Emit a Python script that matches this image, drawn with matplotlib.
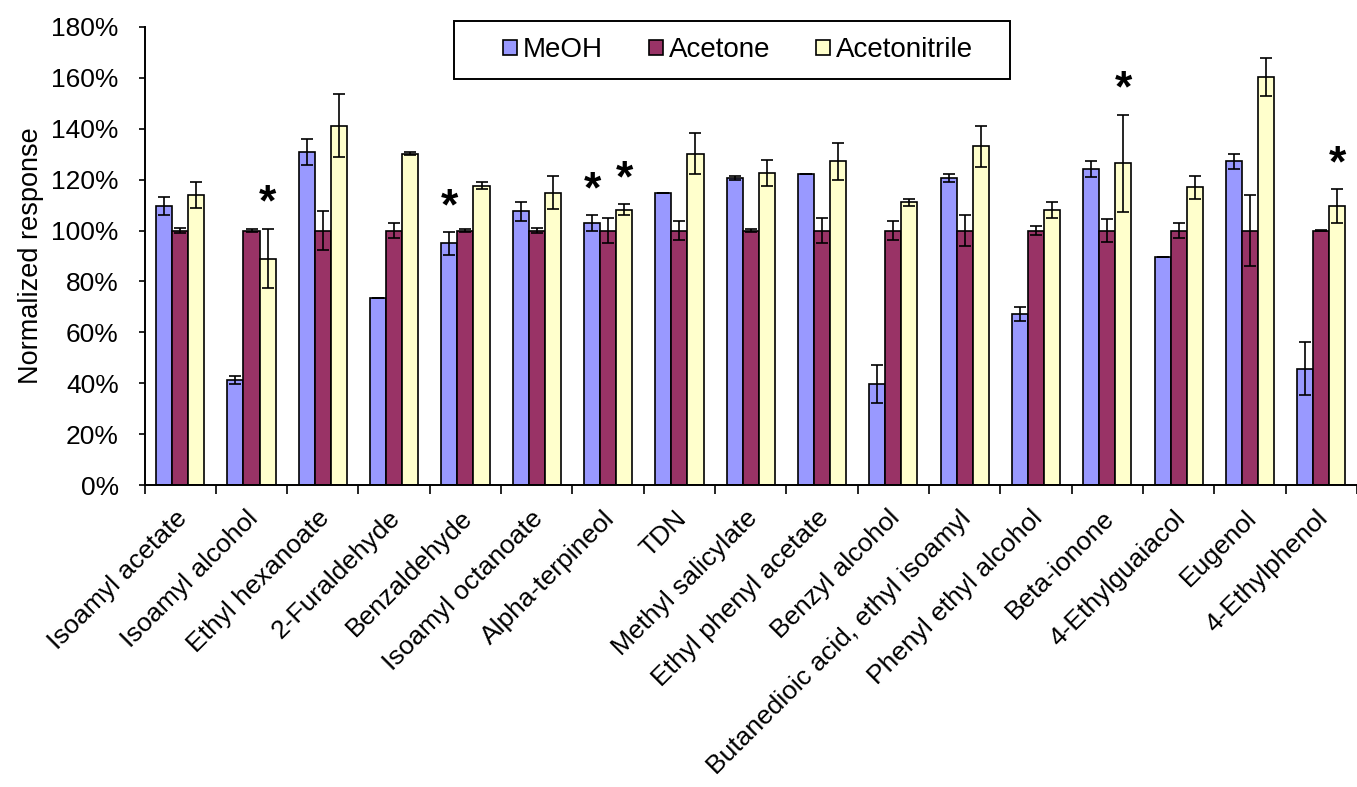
import numpy as np
import matplotlib
matplotlib.use('Agg')
import matplotlib.pyplot as plt
from matplotlib.patches import Rectangle
from matplotlib.ticker import PercentFormatter, FixedLocator

plt.rcParams['font.family'] = ['Liberation Sans', 'DejaVu Sans']

compounds = ['Isoamyl acetate', 'Isoamyl alcohol', 'Ethyl hexanoate', '2-Furaldehyde',
             'Benzaldehyde', 'Isoamyl octanoate', 'Alpha-terpineol', 'TDN',
             'Methyl salicylate', 'Ethyl phenyl acetate', 'Benzyl alcohol',
             'Butanedioic acid, ethyl isoamyl', 'Phenyl ethyl alcohol', 'Beta-ionone',
             '4-Ethylguaiacol', 'Eugenol', '4-Ethylphenol']

# normalized response (%), acetone = 100
meoh = [109.5, 41.3, 130.9, 73.6, 94.9, 107.5, 102.9, 114.8, 120.5, 122.1,
        39.7, 120.5, 67.1, 124.2, 89.7, 127.2, 45.8]
meoh_err = [3.5, 1.4, 5.2, 0.0, 4.4, 3.6, 3.0, 0.0, 0.8, 0.0,
            7.5, 1.6, 2.8, 3.0, 0.0, 2.9, 10.3]
acetone = [100.0] * 17
acetone_err = [1.0, 0.5, 7.5, 3.0, 0.5, 1.0, 5.0, 3.8, 0.5, 5.0,
               3.8, 5.9, 1.6, 4.4, 3.0, 14.0, 0.3]
acn = [114.0, 89.0, 141.2, 130.2, 117.6, 114.8, 108.1, 130.2, 122.7, 127.2,
       111.1, 133.1, 108.1, 126.4, 116.9, 160.3, 109.5]
acn_err = [5.0, 11.7, 12.4, 0.7, 1.5, 6.5, 2.2, 8.0, 5.1, 7.3,
           1.4, 8.1, 3.0, 19.1, 4.4, 7.3, 6.7]

# significance marks: (compound index, series index)
stars = [(1, 2), (4, 0), (6, 0), (6, 2), (13, 2), (16, 2)]

series = [('MeOH', meoh, meoh_err, '#9999FF'),
          ('Acetone', acetone, acetone_err, '#993366'),
          ('Acetonitrile', acn, acn_err, '#FFFFCC')]

fig = plt.figure(figsize=(13.57, 7.87), dpi=100)
ax = fig.add_axes([0.1065, 0.3835, 0.8935, 0.5825])

x = np.arange(len(compounds))
w = 0.225
for k, (name, vals, errs, col) in enumerate(series):
    pos = x + (k - 1) * w
    ax.bar(pos, vals, w, color=col, edgecolor='black', linewidth=1.2, label=name, zorder=2)
    ax.errorbar(pos, vals, yerr=errs, fmt='none', ecolor='black', elinewidth=1.2,
                capsize=4.5, capthick=1.2, zorder=3)

for i, k in stars:
    vals, errs = series[k][1], series[k][2]
    ax.annotate('*', (x[i] + (k - 1) * w, vals[i] + errs[i]), xytext=(0, 3),
                textcoords='offset points', ha='center', va='bottom',
                fontsize=32, fontweight='bold')

ax.set_xlim(-0.5, len(compounds) - 0.5)
ax.set_ylim(0, 180)
ax.yaxis.set_major_locator(FixedLocator(np.arange(0, 181, 20)))
ax.yaxis.set_major_formatter(PercentFormatter(decimals=0))
ax.set_ylabel('Normalized response', fontsize=19.5, labelpad=5)

# category labels sit slightly left of the group centres
ax.set_xticks(x - 0.08)
ax.set_xticklabels(compounds, rotation=45, ha='right', va='top',
                   rotation_mode='anchor', fontsize=19)
ax.xaxis.set_minor_locator(FixedLocator(np.arange(-0.5, len(compounds), 1)))
ax.tick_params(axis='x', which='major', length=0, pad=15)
ax.tick_params(axis='x', which='minor', length=6.5, width=1.2, direction='out')
ax.tick_params(axis='y', length=4.5, width=1.2, labelsize=19, pad=14)

for s in ['top', 'right']:
    ax.spines[s].set_visible(False)
for s in ['left', 'bottom']:
    ax.spines[s].set_linewidth(1.4)

# legend entries without their own frame, boxed by a plain rectangle
leg = fig.legend(loc='center', bbox_to_anchor=(0.544, 0.936), ncol=3, fontsize=20,
                 frameon=False, handlelength=0.5, handleheight=0.5,
                 columnspacing=1.65, handletextpad=0.22)
fig.add_artist(Rectangle((454 / 1357, 1 - 79 / 787), 556 / 1357, 58 / 787,
                         transform=fig.transFigure, fill=False,
                         edgecolor='black', linewidth=1.4))

fig.savefig('out.png', dpi=100)
